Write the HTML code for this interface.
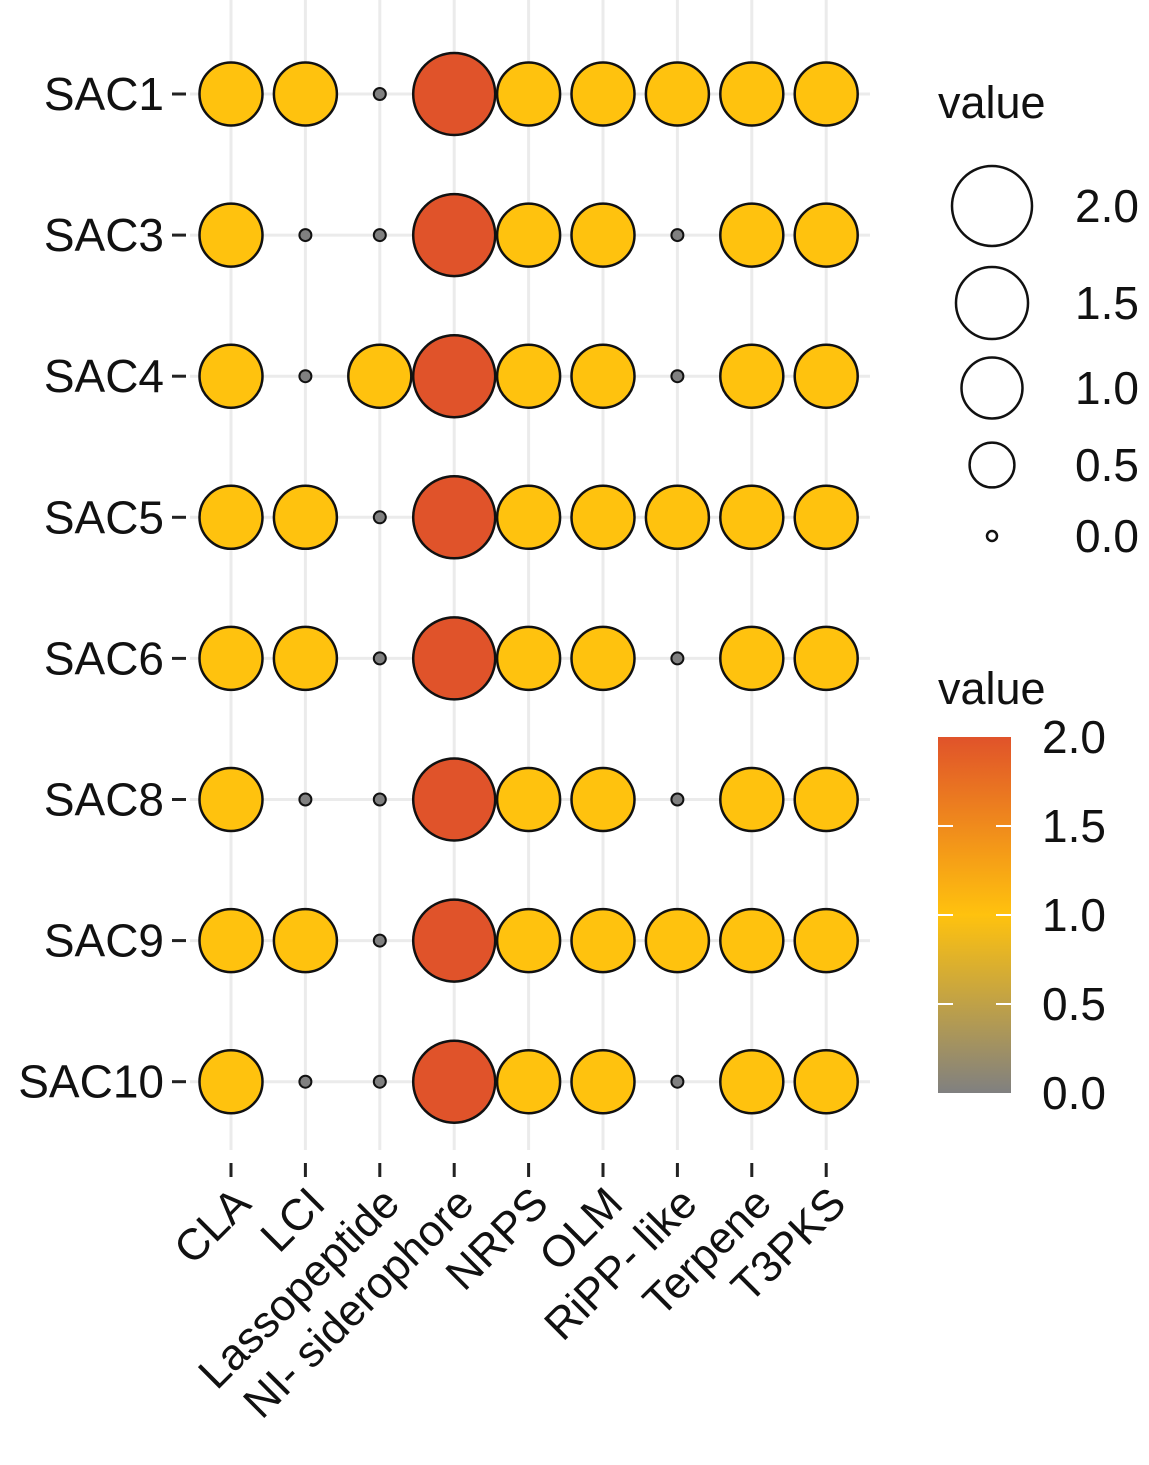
<!DOCTYPE html>
<html><head><meta charset="utf-8"><style>
html,body{margin:0;padding:0;background:#fff}
svg{display:block;font-family:"Liberation Sans",Arial,sans-serif}
</style></head><body>
<svg id="chart" width="1149" height="1465" viewBox="0 0 1149 1465">
<defs>
<linearGradient id="cbar" x1="0" y1="1" x2="0" y2="0">
<stop offset="0" stop-color="#808080"/><stop offset="0.5" stop-color="#FFC20E"/><stop offset="1" stop-color="#E0532A"/>
</linearGradient>
</defs>
<g id="grid"></g>
<g id="points"></g>
<g id="axes"></g>
<g id="legend"></g>
</svg>
<script>
const categories = ["CLA","LCI","Lassopeptide","NI- siderophore","NRPS","OLM","RiPP- like","Terpene","T3PKS"];
const samples = ["SAC1","SAC3","SAC4","SAC5","SAC6","SAC8","SAC9","SAC10"];
const sac1 = [1,1,0,2,1,1,1,1,1];
const sac3 = [1,0,0,2,1,1,0,1,1];
const sac4 = [1,0,1,2,1,1,0,1,1];
const sac5 = [1,1,0,2,1,1,1,1,1];
const sac6 = [1,1,0,2,1,1,0,1,1];
const sac8 = [1,0,0,2,1,1,0,1,1];
const sac9 = [1,1,0,2,1,1,1,1,1];
const sac10 = [1,0,0,2,1,1,0,1,1];
const sizeLegendValues = [2.0,1.5,1.0,0.5,0.0];
const colorTicks = [0.0,0.5,1.0,1.5,2.0];
const rows = [sac1,sac3,sac4,sac5,sac6,sac8,sac9,sac10];

const NS="http://www.w3.org/2000/svg";
function mk(tag,attrs,parent){const e=document.createElementNS(NS,tag);for(const k in attrs)e.setAttribute(k,attrs[k]);parent.appendChild(e);return e;}
const xScale=i=>231+i*74.4;
const yScale=j=>94+j*141.1;
const rScale=v=>Math.sqrt(Math.max(0,36+1089.5*v-133.5*v*v));
function lerp(a,b,t){return Math.round(a+(b-a)*t);}
function colorScale(v){
  const g=[128,128,128],y=[255,194,14],r=[224,83,42];
  let a,b,t; if(v<=1){a=g;b=y;t=v;}else{a=y;b=r;t=v-1;}
  return `rgb(${lerp(a[0],b[0],t)},${lerp(a[1],b[1],t)},${lerp(a[2],b[2],t)})`;
}
const grid=document.getElementById('grid'),pts=document.getElementById('points'),axes=document.getElementById('axes'),leg=document.getElementById('legend');
categories.forEach((c,i)=>{
  const l=mk('line',{x1:xScale(i),x2:xScale(i),y1:0,y2:1150,stroke:'#ebebeb','stroke-width':3},grid);
  
  
  const t=mk('line',{x1:xScale(i),x2:xScale(i),y1:1163,y2:1177,stroke:'#222','stroke-width':3},axes);
  
  
  const ax=xScale(i)+22, ay=1206;
  const tx=mk('text',{x:ax,y:ay,'font-size':44,'text-anchor':'end',fill:'#111',transform:`rotate(-45 ${ax} ${ay})`},axes);
  tx.textContent=c;
  
  
});
samples.forEach((s,j)=>{
  const l=mk('line',{x1:190,x2:870,y1:yScale(j),y2:yScale(j),stroke:'#ebebeb','stroke-width':3},grid);
  
  
  const t=mk('line',{x1:172,x2:186,y1:yScale(j),y2:yScale(j),stroke:'#222','stroke-width':3},axes);
  
  
  const tx=mk('text',{x:164,y:yScale(j)+16,'font-size':46,'text-anchor':'end',fill:'#111'},axes);
  tx.textContent=s;
  
  
});
rows.forEach((row,j)=>row.forEach((v,i)=>{
  const c=mk('circle',{cx:xScale(i),cy:yScale(j),r:rScale(v),fill:colorScale(v),stroke:'#111','stroke-width':v>0?2.5:2},pts);
  
  
}));
let st=mk('text',{x:938,y:118,'font-size':45,fill:'#111'},leg);
st.textContent='value';


const sizeY=[206,303,388,465,536];
sizeLegendValues.forEach((v,k)=>{
  const c=mk('circle',{cx:992,cy:sizeY[k],r:Math.max(5,rScale(v)-1),fill:'#fff',stroke:'#111','stroke-width':2.5},leg);
  
  
  const t=mk('text',{x:1139,y:sizeY[k]+16,'font-size':46,'text-anchor':'end',fill:'#111'},leg);
  t.textContent=v.toFixed(1);
  
  
});
st=mk('text',{x:938,y:704,'font-size':45,fill:'#111'},leg);
st.textContent='value';


const cb=mk('rect',{x:938,y:737,width:73,height:356,fill:'url(#cbar)'},leg);


const cY=v=>1093-v*178;
colorTicks.forEach(v=>{
  if(v>0&&v<2){
    mk('line',{x1:938,x2:953,y1:cY(v),y2:cY(v),stroke:'#fff','stroke-width':2},leg);
    mk('line',{x1:996,x2:1011,y1:cY(v),y2:cY(v),stroke:'#fff','stroke-width':2},leg);
  }
  const t=mk('text',{x:1106,y:cY(v)+16,'font-size':46,'text-anchor':'end',fill:'#111'},leg);
  t.textContent=v.toFixed(1);
  
  
});
</script>
</body></html>
